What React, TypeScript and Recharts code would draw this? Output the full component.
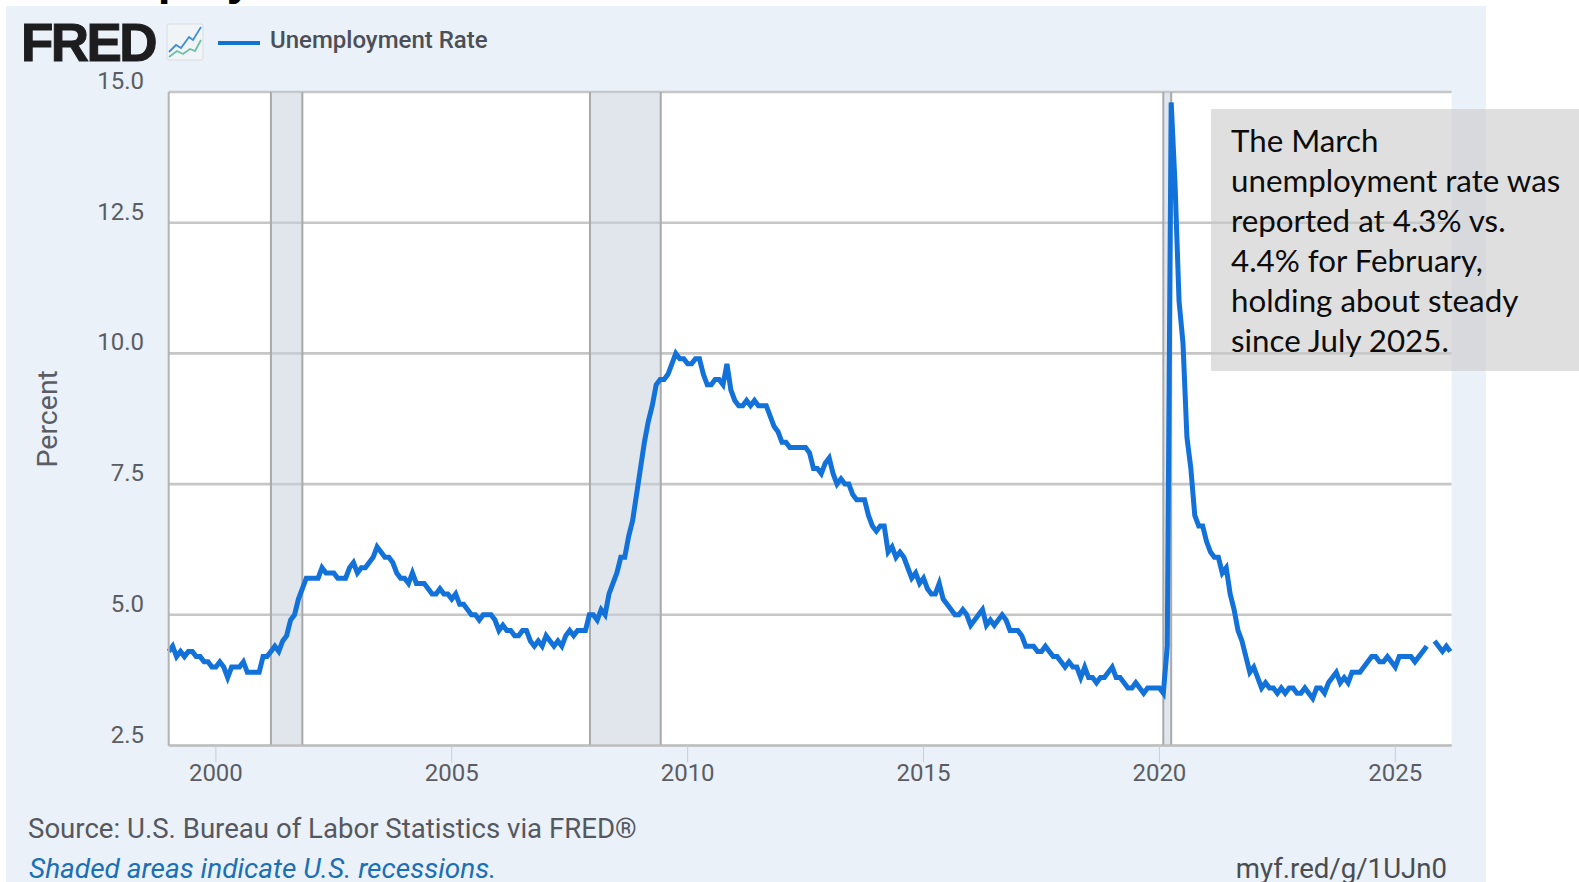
import React from "react";
import { LineChart, Line, XAxis, YAxis, CartesianGrid, ReferenceArea, ReferenceLine } from "recharts";

const startYear = 1999;
// monthly values, Jan 1999 onward; Oct 2025 was never published
const rates: (number | null)[] = [
  4.3, 4.4, 4.2, 4.3, 4.2, 4.3, 4.3, 4.2, 4.2, 4.1, 4.1, 4.0,
  4.0, 4.1, 4.0, 3.8, 4.0, 4.0, 4.0, 4.1, 3.9, 3.9, 3.9, 3.9,
  4.2, 4.2, 4.3, 4.4, 4.3, 4.5, 4.6, 4.9, 5.0, 5.3, 5.5, 5.7,
  5.7, 5.7, 5.7, 5.9, 5.8, 5.8, 5.8, 5.7, 5.7, 5.7, 5.9, 6.0,
  5.8, 5.9, 5.9, 6.0, 6.1, 6.3, 6.2, 6.1, 6.1, 6.0, 5.8, 5.7,
  5.7, 5.6, 5.8, 5.6, 5.6, 5.6, 5.5, 5.4, 5.4, 5.5, 5.4, 5.4,
  5.3, 5.4, 5.2, 5.2, 5.1, 5.0, 5.0, 4.9, 5.0, 5.0, 5.0, 4.9,
  4.7, 4.8, 4.7, 4.7, 4.6, 4.6, 4.7, 4.7, 4.5, 4.4, 4.5, 4.4,
  4.6, 4.5, 4.4, 4.5, 4.4, 4.6, 4.7, 4.6, 4.7, 4.7, 4.7, 5.0,
  5.0, 4.9, 5.1, 5.0, 5.4, 5.6, 5.8, 6.1, 6.1, 6.5, 6.8, 7.3,
  7.8, 8.3, 8.7, 9.0, 9.4, 9.5, 9.5, 9.6, 9.8, 10.0, 9.9, 9.9,
  9.8, 9.8, 9.9, 9.9, 9.6, 9.4, 9.4, 9.5, 9.5, 9.4, 9.8, 9.3,
  9.1, 9.0, 9.0, 9.1, 9.0, 9.1, 9.0, 9.0, 9.0, 8.8, 8.6, 8.5,
  8.3, 8.3, 8.2, 8.2, 8.2, 8.2, 8.2, 8.1, 7.8, 7.8, 7.7, 7.9,
  8.0, 7.7, 7.5, 7.6, 7.5, 7.5, 7.3, 7.2, 7.2, 7.2, 6.9, 6.7,
  6.6, 6.7, 6.7, 6.2, 6.3, 6.1, 6.2, 6.1, 5.9, 5.7, 5.8, 5.6,
  5.7, 5.5, 5.4, 5.4, 5.6, 5.3, 5.2, 5.1, 5.0, 5.0, 5.1, 5.0,
  4.8, 4.9, 5.0, 5.1, 4.8, 4.9, 4.8, 4.9, 5.0, 4.9, 4.7, 4.7,
  4.7, 4.6, 4.4, 4.4, 4.4, 4.3, 4.3, 4.4, 4.3, 4.2, 4.2, 4.1,
  4.0, 4.1, 4.0, 4.0, 3.8, 4.0, 3.8, 3.8, 3.7, 3.8, 3.8, 3.9,
  4.0, 3.8, 3.8, 3.7, 3.6, 3.6, 3.7, 3.6, 3.5, 3.6, 3.6, 3.6,
  3.6, 3.5, 4.4, 14.8, 13.2, 11.0, 10.2, 8.4, 7.8, 6.9, 6.7, 6.7,
  6.4, 6.2, 6.1, 6.1, 5.8, 5.9, 5.4, 5.1, 4.7, 4.5, 4.2, 3.9,
  4.0, 3.8, 3.6, 3.7, 3.6, 3.6, 3.5, 3.6, 3.5, 3.6, 3.6, 3.5,
  3.5, 3.6, 3.5, 3.4, 3.6, 3.6, 3.5, 3.7, 3.8, 3.9, 3.7, 3.8,
  3.7, 3.9, 3.9, 3.9, 4.0, 4.1, 4.2, 4.2, 4.1, 4.1, 4.2, 4.1,
  4.0, 4.2, 4.2, 4.2, 4.2, 4.1, 4.2, 4.3, 4.4, null, 4.5, 4.4,
  4.3, 4.4, 4.3,
];
const yearTicks = [2000, 2005, 2010, 2015, 2020, 2025];
const rateTicks = [2.5, 5, 7.5, 10, 12.5, 15];
const recessionStarts = [2001.167, 2007.93, 2020.083];
const recessionEnds = [2001.833, 2009.43, 2020.25];
const noteLines = [
  "The March",
  "unemployment rate was",
  "reported at 4.3% vs.",
  "4.4% for February,",
  "holding about steady",
  "since July 2025.",
];

const data = rates.map((rate, i) => ({ t: startYear + i / 12, rate }));

const roboto = "Roboto, sans-serif";
const tickColor = "#5a5d63";

function YearTick({ x, y, payload }: any) {
  return (
    <text x={x} y={y + 18} textAnchor="middle" fontFamily={roboto} fontSize={24} fill={tickColor}>
      {payload.value}
    </text>
  );
}

function RateTick({ y, payload }: any) {
  return (
    <text x={144} y={y - 3} textAnchor="end" fontFamily={roboto} fontSize={24} fill={tickColor}>
      {payload.value.toFixed(1)}
    </text>
  );
}

function Logo() {
  return (
    <svg width={230} height={50} style={{ position: "absolute", left: 18, top: 18 }}>
      <text x={3} y={43} fontFamily="Liberation Sans" fontWeight={700} fontSize={53} letterSpacing={-2.6} fill="#1d1d1f" stroke="#1d1d1f" strokeWidth={1}>
        FRED
      </text>
      <rect x={149} y={6} width={36} height={36} rx={2} fill="#f1f4f6" stroke="#d9dde0" />
      <polyline points="151,34 158,27 163,30 171,19 175,22 183,9" fill="none" stroke="#3f8fd8" strokeWidth={1.8} />
      <polyline points="151,39 159,33 165,36 172,31 177,33 183,22" fill="none" stroke="#6fbfa8" strokeWidth={1.8} />
    </svg>
  );
}

export default function App() {
  return (
    <div style={{ position: "fixed", left: 0, top: 0, width: 1579, height: 882, overflow: "hidden", background: "#fff" }}>
      <div style={{ position: "absolute", left: 0, top: 0, width: 800, height: 6, overflow: "hidden" }}>
        <div style={{ position: "absolute", left: 30, top: -52.4, fontFamily: "Liberation Sans", fontWeight: 700, fontSize: 46, lineHeight: "60px", color: "#000", whiteSpace: "nowrap" }}>
          Unemployment
        </div>
      </div>
      <div style={{ position: "absolute", left: 6, top: 6, width: 1480, height: 876, background: "#eaf1f9" }} />
      <LineChart
        width={1579}
        height={882}
        data={data}
        margin={{ top: 92, right: 127.4, bottom: 106.5, left: 20 }}
        style={{ position: "absolute", left: 0, top: 0 }}
      >
        <CartesianGrid vertical={false} stroke="#c6c6c6" strokeWidth={2.6} fill="#fff" />
        <XAxis
          dataKey="t"
          type="number"
          domain={[1999, 2026.194]}
          ticks={yearTicks}
          height={30}
          tickSize={17}
          tickMargin={0}
          stroke="#c6ced8"
          axisLine={{ stroke: "#bdbdbd", strokeWidth: 2 }}
          tick={<YearTick />}
        />
        <YAxis
          type="number"
          domain={[2.5, 15]}
          ticks={rateTicks}
          width={148.7}
          tickLine={false}
          axisLine={{ stroke: "#b4b4b4", strokeWidth: 2 }}
          tick={<RateTick />}
          label={{ value: "Percent", angle: -90, position: "insideLeft", offset: 27, textAnchor: "middle", fontFamily: roboto, fontSize: 28.5, fill: tickColor }}
        />
        {recessionStarts.map((start, i) => (
          <ReferenceArea key={start} x1={start} x2={recessionEnds[i]} fill="#c9d1dc" fillOpacity={0.55} stroke="none" />
        ))}
        {recessionStarts.concat(recessionEnds).map((edge) => (
          <ReferenceLine key={edge} x={edge} stroke="#a9a9a9" strokeWidth={2} />
        ))}
        <Line dataKey="rate" type="linear" stroke="#1272d9" strokeWidth={5} dot={false} connectNulls={false} isAnimationActive={false} />
      </LineChart>
      <Logo />
      <svg width={50} height={10} style={{ position: "absolute", left: 214, top: 38 }}>
        <line x1={4} x2={46} y1={5} y2={5} stroke="#1272d0" strokeWidth={4} />
      </svg>
      <div style={{ position: "absolute", left: 270, top: 25, fontFamily: roboto, fontWeight: 500, fontSize: 24, lineHeight: "30px", color: "#4b4f57", whiteSpace: "nowrap" }}>
        Unemployment Rate
      </div>
      <div style={{ position: "absolute", left: 28, top: 812, fontFamily: roboto, fontSize: 27.6, lineHeight: "34px", color: "#55585e", whiteSpace: "nowrap" }}>
        Source: U.S. Bureau of Labor Statistics via FRED®
      </div>
      <div style={{ position: "absolute", left: 29, top: 852, fontFamily: roboto, fontStyle: "italic", fontSize: 28, lineHeight: "34px", color: "#1a6fb5", whiteSpace: "nowrap" }}>
        Shaded areas indicate U.S. recessions.
      </div>
      <div style={{ position: "absolute", right: 132, top: 852, fontFamily: roboto, fontSize: 27.6, lineHeight: "34px", color: "#4a4d52", whiteSpace: "nowrap" }}>
        myf.red/g/1UJn0
      </div>
      <div style={{ position: "absolute", left: 1211, top: 109, width: 368, height: 262, background: "rgba(201,201,201,0.6)" }} />
      <div style={{ position: "absolute", left: 1231, top: 120, fontFamily: "Lato, sans-serif", fontSize: 31.3, lineHeight: "40px", color: "#0c0c0c", whiteSpace: "nowrap" }}>
        {noteLines.map((line) => (
          <div key={line}>{line}</div>
        ))}
      </div>
    </div>
  );
}
